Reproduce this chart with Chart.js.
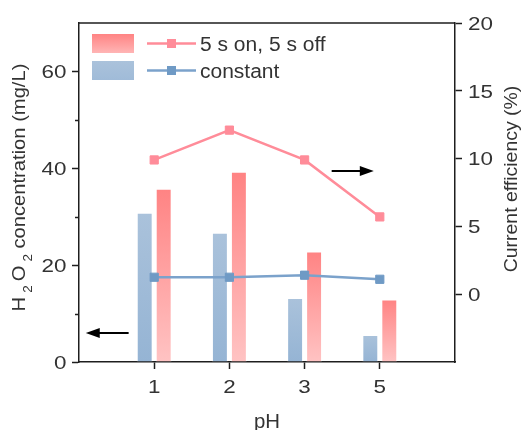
<!DOCTYPE html>
<html>
<head>
<meta charset="utf-8">
<script src="https://cdn.jsdelivr.net/npm/chart.js@4.4.1/dist/chart.umd.min.js"></script>
<style>
html, body { margin: 0; padding: 0; background: #fff; }
canvas { display: block; }
</style>
</head>
<body>
<canvas id="chart" width="521" height="430"></canvas>
<script>
// pH values on the x axis
const categories = ['1', '2', '3', '5'];
// H2O2 concentration, mg/L (left axis, bars)
const concConstant = [30.8, 26.7, 13.2, 5.6];
const concPulsed = [35.8, 39.3, 22.8, 12.9];
// current efficiency, % (right axis, lines)
const effPulsed = [9.9, 12.1, 9.9, 5.7];
const effConstant = [1.25, 1.25, 1.4, 1.1];
const seriesNames = ['5 s on, 5 s off', 'constant'];
// arrows pointing at the axis each series belongs to: [x index, value]
const arrowNotes = [
  { axis: 'y', from: [0.66, 6], to: [0.09, 6] },
  { axis: 'y1', from: [3.36, 9.1], to: [3.92, 9.1] }
];

const FONT = "'Liberation Sans', Arial, sans-serif";
const AXIS = '#1e1e1e';
const TEXT = '#333';
const PINK = { top: '#FF8383', bottom: '#FFC3C3', line: '#FF8C99' };
const BLUE = { top: '#AAC2DB', bottom: '#95B4D4', line: '#7BA2CB', mark: '#6F9AC5' };

// padded so the four pH values sit at 1..4 of a 0..5 span
const labels = ['', ...categories, ''];
const pad = arr => [null, ...arr, null];

function barFill(c) {
  return ctx => {
    const chart = ctx.chart;
    const ys = chart.scales.y;
    if (ctx.type !== 'data' || ctx.raw == null || !ys) return c.top;
    const top = ys.getPixelForValue(ctx.raw);
    const bot = ys.getPixelForValue(0);
    if (!isFinite(top) || !isFinite(bot)) return c.top;
    const g = chart.ctx.createLinearGradient(0, top, 0, bot);
    g.addColorStop(0, c.top);
    g.addColorStop(1, c.bottom);
    return g;
  };
}

function wideText(ctx, text, x, y, sx, align, rot) {
  ctx.save();
  ctx.translate(x, y);
  if (rot) ctx.rotate(rot);
  ctx.scale(sx, 1);
  ctx.textAlign = align;
  ctx.textBaseline = 'alphabetic';
  ctx.fillText(text, 0, 0);
  ctx.restore();
}

function arrow(ctx, x1, y, x2) {
  const dir = Math.sign(x2 - x1);
  ctx.beginPath();
  ctx.moveTo(x1, y);
  ctx.lineTo(x2 - dir * 10, y);
  ctx.lineWidth = 2.2;
  ctx.stroke();
  ctx.beginPath();
  ctx.moveTo(x2, y);
  ctx.lineTo(x2 - dir * 14, y - 5);
  ctx.lineTo(x2 - dir * 14, y + 5);
  ctx.closePath();
  ctx.fill();
}

const decor = {
  id: 'decor',
  afterDraw(chart) {
    const { ctx, chartArea: a, scales } = chart;
    ctx.save();
    ctx.strokeStyle = AXIS;
    ctx.fillStyle = AXIS;
    ctx.lineWidth = 1.5;

    // top frame line
    ctx.beginPath();
    ctx.moveTo(a.left, a.top);
    ctx.lineTo(a.right, a.top);
    ctx.stroke();

    // short minor ticks on the left axis
    scales.y.ticks.forEach(t => {
      if (t.value % 20 === 0 || t.value >= scales.y.max) return;
      const py = Math.round(scales.y.getPixelForValue(t.value)) + 0.5;
      ctx.beginPath();
      ctx.moveTo(a.left - 4, py);
      ctx.lineTo(a.left, py);
      ctx.stroke();
    });

    // tick labels
    ctx.fillStyle = TEXT;
    ctx.font = `19px ${FONT}`;
    scales.x.ticks.forEach(t => {
      if (!t.label) return;
      wideText(ctx, t.label, scales.x.getPixelForValue(t.value), a.bottom + 30.5, 1.18, 'center');
    });
    scales.y.ticks.forEach(t => {
      if (t.label === '') return;
      wideText(ctx, String(t.label), a.left - 12.5, scales.y.getPixelForValue(t.value) + 6.8, 1.18, 'right');
    });
    scales.y1.ticks.forEach(t => {
      if (t.label === '') return;
      wideText(ctx, String(t.label), a.right + 13, scales.y1.getPixelForValue(t.value) + 6.8, 1.18, 'left');
    });

    // x title
    ctx.font = `20px ${FONT}`;
    wideText(ctx, 'pH', (a.left + a.right) / 2, 428, 1.02, 'center');

    // right title, reads bottom to top
    ctx.font = `18px ${FONT}`;
    wideText(ctx, 'Current efficiency (%)', 517, 179, 1.08, 'center', -Math.PI / 2);

    // left title with subscripts
    ctx.save();
    ctx.translate(25, 187.5);
    ctx.rotate(-Math.PI / 2);
    ctx.scale(1.12, 1);
    ctx.textBaseline = 'alphabetic';
    ctx.textAlign = 'left';
    const big = `18px ${FONT}`, small = `12px ${FONT}`;
    const parts = [
      { s: 'H', f: big, dy: 0 }, { s: '\u2009', f: big, dy: 0 }, { s: '2', f: small, dy: 7 },
      { s: '\u2009', f: big, dy: 0 }, { s: 'O', f: big, dy: 0 }, { s: '\u2009', f: big, dy: 0 },
      { s: '2', f: small, dy: 7 }, { s: ' concentration (mg/L)', f: big, dy: 0 }
    ];
    let total = 0;
    parts.forEach(p => { ctx.font = p.f; p.w = ctx.measureText(p.s).width; total += p.w; });
    let px = -total / 2;
    parts.forEach(p => { ctx.font = p.f; ctx.fillText(p.s, px, p.dy); px += p.w; });
    ctx.restore();

    // legend: bar swatch + line sample per series
    const legend = [
      { name: seriesNames[0], c: PINK, mark: PINK.line, cy: 43.5 },
      { name: seriesNames[1], c: BLUE, mark: BLUE.mark, cy: 70.5 }
    ];
    legend.forEach(it => {
      const g = ctx.createLinearGradient(0, it.cy - 9.5, 0, it.cy + 9.5);
      g.addColorStop(0, it.c.top);
      g.addColorStop(1, it === legend[0] ? '#FFB5B5' : '#A0BBD8');
      ctx.fillStyle = g;
      ctx.fillRect(92, it.cy - 9.5, 42, 19);
      ctx.strokeStyle = it.c.line;
      ctx.lineWidth = 2.5;
      ctx.beginPath();
      ctx.moveTo(147, it.cy);
      ctx.lineTo(196, it.cy);
      ctx.stroke();
      ctx.fillStyle = it.mark;
      ctx.fillRect(167, it.cy - 4.5, 9, 9);
      ctx.fillStyle = TEXT;
      ctx.font = `20px ${FONT}`;
      wideText(ctx, it.name, 200, it.cy + 7, 1.05, 'left');
    });

    // arrows
    ctx.strokeStyle = '#000';
    ctx.fillStyle = '#000';
    arrowNotes.forEach(n => {
      const sy = scales[n.axis];
      const y = Math.round(sy.getPixelForValue(n.from[1]));
      arrow(ctx, scales.x.getPixelForValue(n.from[0]), y, scales.x.getPixelForValue(n.to[0]));
    });
    ctx.restore();
  }
};

new Chart(document.getElementById('chart'), {
  type: 'bar',
  data: {
    labels,
    datasets: [
      {
        type: 'line', label: seriesNames[0], data: pad(effPulsed), yAxisID: 'y1', order: 1,
        borderColor: PINK.line, borderWidth: 2.5, tension: 0,
        pointStyle: 'rect', pointRadius: 5.8, pointBorderWidth: 1,
        pointBackgroundColor: PINK.line, pointBorderColor: PINK.line
      },
      {
        type: 'line', label: seriesNames[1], data: pad(effConstant), yAxisID: 'y1', order: 1,
        borderColor: BLUE.line, borderWidth: 2.5, tension: 0,
        pointStyle: 'rect', pointRadius: 5.8, pointBorderWidth: 1,
        pointBackgroundColor: BLUE.mark, pointBorderColor: BLUE.mark
      },
      {
        label: seriesNames[1], data: pad(concConstant), yAxisID: 'y', order: 2,
        backgroundColor: barFill(BLUE), borderColor: 'rgba(255,255,255,0.55)', borderWidth: 1,
        categoryPercentage: 0.505, barPercentage: 0.84
      },
      {
        label: seriesNames[0], data: pad(concPulsed), yAxisID: 'y', order: 2,
        backgroundColor: barFill(PINK), borderColor: 'rgba(255,255,255,0.55)', borderWidth: 1,
        categoryPercentage: 0.505, barPercentage: 0.84
      }
    ]
  },
  options: {
    responsive: false,
    maintainAspectRatio: false,
    animation: false,
    devicePixelRatio: 1,
    layout: { padding: { top: 23, left: 0, right: 0, bottom: 0 } },
    plugins: { legend: { display: false }, tooltip: { enabled: false } },
    scales: {
      x: {
        type: 'category',
        offset: false,
        afterBuildTicks: s => { s.ticks = s.ticks.filter(t => t.value > 0 && t.value < labels.length - 1); },
        afterFit: s => { s.height = 68; },
        grid: { offset: false, drawOnChartArea: false, tickLength: 7, tickWidth: 1.5, tickColor: AXIS },
        border: { display: true, color: AXIS, width: 1.5 },
        ticks: { color: 'transparent', font: { size: 19, family: FONT }, maxRotation: 0, autoSkip: false }
      },
      y: {
        position: 'left',
        min: 0, max: 70,
        afterFit: s => { s.width = 79; },
        grid: {
          drawOnChartArea: false, tickLength: 7, tickWidth: 1.5,
          tickColor: c => (c.tick && c.tick.value % 20 === 0) ? AXIS : 'transparent'
        },
        border: { display: true, color: AXIS, width: 1.5 },
        ticks: {
          stepSize: 10, color: 'transparent', font: { size: 19, family: FONT },
          callback: v => v % 20 === 0 ? String(v) : ''
        }
      },
      y1: {
        position: 'right',
        min: -5, max: 20,
        afterFit: s => { s.width = 66; },
        grid: {
          drawOnChartArea: false, tickLength: 7, tickWidth: 1.5,
          tickColor: c => (c.tick && c.tick.value >= 0) ? AXIS : 'transparent'
        },
        border: { display: true, color: AXIS, width: 1.5 },
        ticks: {
          stepSize: 5, color: 'transparent', font: { size: 19, family: FONT },
          callback: v => v >= 0 ? String(v) : ''
        }
      }
    }
  },
  plugins: [decor]
});
</script>
</body>
</html>
